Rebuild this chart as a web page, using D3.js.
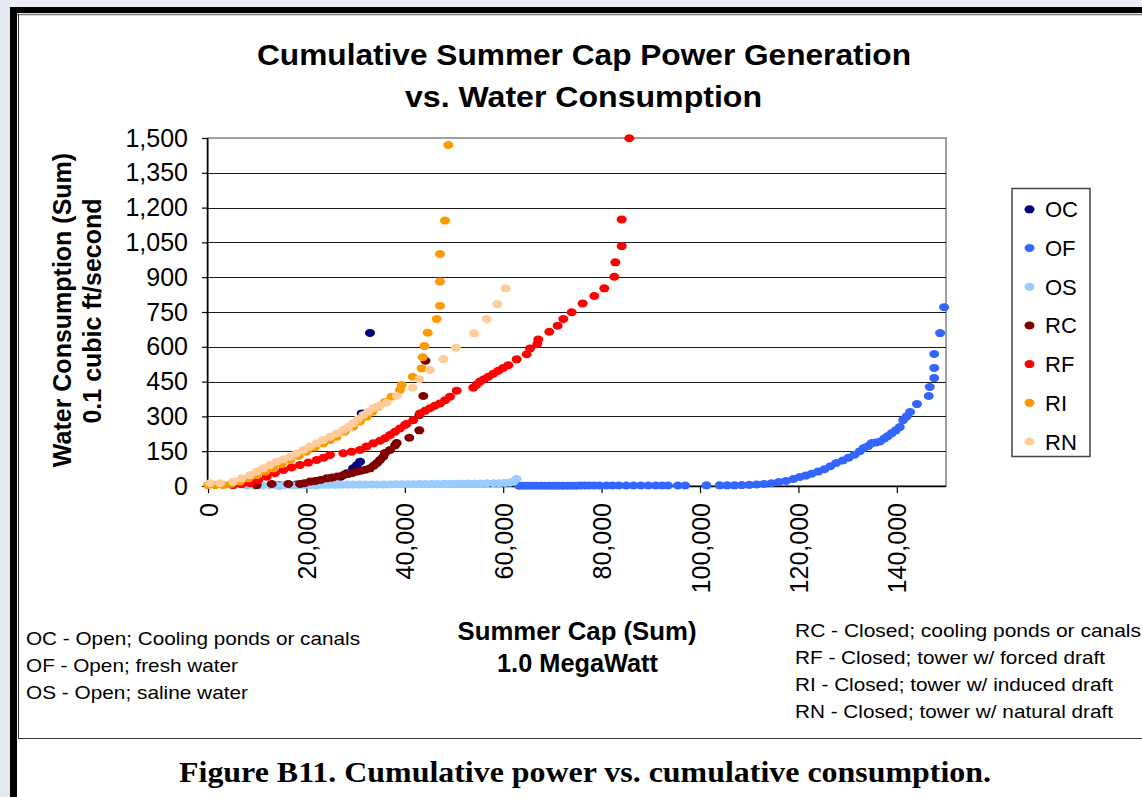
<!DOCTYPE html>
<html><head><meta charset="utf-8">
<script src="https://cdn.jsdelivr.net/npm/d3@7"></script>
<style>body{margin:0;background:#fff}svg{display:block}</style>
</head><body>
<svg id="c" width="1142" height="797"></svg>
<script>
// ---------- data ----------
const seriesNames = ["OC","OF","OS","RC","RF","RI","RN"];
const seriesColors = ["#000080","#3366FF","#99CCFF","#800000","#FF0000","#FF9900","#FFCC99"];

const OC_x = [14500, 18000, 22400, 25000, 27000, 28200, 29500, 30300, 30900, 31240, 32930];
const OC_y = [3, 6, 20, 28, 40, 55, 76, 90, 105, 313, 660];

const OF_x = [63200, 64000, 64900, 65800, 66700, 67600, 68500, 69400, 70300, 71200, 72100, 73000, 73900, 74800, 75700, 76600, 77500, 78500, 79600, 81000, 82200, 83500, 85000, 86500, 88000, 89500, 91000, 92300, 93500, 95500, 97000, 101300, 104000, 105500, 107000, 108500, 110000, 111500, 113000, 114500, 116000, 117500, 119000, 120300, 121500, 122700, 124000, 125300, 126500, 127700, 129000, 130200, 131400, 132500, 133300, 134200, 134900, 135800, 136600, 137500, 138200, 139000, 139800, 140600, 141300, 142000, 142700, 144100, 146500, 146700, 147600, 147600, 147600, 148800, 149600];
const OF_y = [1, 1, 1, 1, 1, 1, 1, 1, 1, 1, 1, 1, 1, 1, 2, 2, 2, 2, 2, 2, 2, 2, 2, 2, 2, 2, 2, 2, 2, 2, 2, 3, 3, 3, 3, 4, 5, 7, 9, 12, 17, 22, 30, 39, 45, 53, 62, 72, 85, 99, 110, 122, 135, 150, 164, 172, 185, 188, 192, 205, 215, 228, 240, 254, 284, 300, 319, 353, 388, 427, 465, 509, 569, 659, 771];

const OS_x = [7900, 9500, 11000, 12600, 14000, 15300, 16800, 18200, 19500, 20800, 22000, 23300, 24500, 25800, 27000, 28300, 29500, 30800, 32000, 33200, 34500, 35700, 37000, 38200, 39400, 40600, 41800, 43000, 44200, 45500, 46700, 48000, 49200, 50500, 51700, 53000, 54200, 55500, 56700, 58000, 59200, 60300, 61300, 62100, 62700];
const OS_y = [1, 1, 2, 2, 2, 3, 3, 3, 4, 4, 4, 5, 5, 5, 5, 6, 6, 6, 6, 7, 7, 7, 7, 8, 8, 8, 8, 9, 9, 9, 9, 10, 10, 10, 10, 11, 11, 11, 12, 12, 12, 13, 14, 19, 30];

const RC_x = [9900, 12950, 16320, 18700, 19600, 20730, 21800, 22900, 24120, 25200, 26300, 27500, 28500, 29400, 30220, 31100, 32000, 32930, 33700, 34400, 34960, 35630, 35980, 36990, 38010, 38350, 40910, 42950, 42950, 43760, 44200];
const RC_y = [4, 9, 9, 9, 12, 19, 22, 26, 33, 37, 41, 47, 52, 56, 62, 66, 70, 76, 88, 100, 112, 126, 142, 155, 175, 185, 208, 240, 306, 388, 540];

const RF_x = [5080, 6800, 8540, 10200, 11930, 13600, 15310, 17000, 18700, 20400, 22090, 23500, 24800, 27500, 29200, 30890, 32200, 33600, 34960, 35980, 36990, 38010, 39000, 40040, 40380, 41730, 43090, 44100, 45120, 46100, 47150, 48200, 49190, 50540, 53930, 54600, 55280, 56100, 56970, 58000, 59010, 60000, 61040, 62740, 64770, 65450, 66930, 67140, 69370, 71070, 72220, 73920, 76150, 78520, 80550, 82580, 82790, 84080, 84080, 85630];
const RF_y = [4, 8, 12, 25, 40, 55, 69, 80, 91, 101, 112, 122, 134, 141, 148, 155, 170, 184, 195, 206, 220, 234, 248, 263, 268, 284, 313, 324, 335, 346, 356, 370, 385, 411, 424, 437, 450, 460, 471, 484, 497, 509, 521, 546, 568, 593, 612, 632, 665, 691, 720, 749, 787, 819, 852, 902, 964, 1034, 1149, 1499];

const RI_x = [0, 1500, 3110, 4800, 6500, 8200, 9900, 11600, 13270, 15000, 16670, 18400, 20060, 21700, 23430, 24800, 26150, 27800, 29530, 30900, 32250, 33400, 34610, 35980, 37300, 39020, 39370, 41600, 43430, 43640, 43970, 44650, 46480, 47150, 47150, 47150, 48170, 48850];
const RI_y = [4, 4, 4, 10, 19, 33, 47, 62, 76, 94, 112, 130, 148, 166, 184, 198, 212, 234, 256, 278, 299, 320, 342, 362, 385, 414, 435, 471, 507, 555, 603, 661, 720, 777, 881, 1000, 1144, 1470];

const RN_x = [400, 2440, 5150, 6800, 8540, 9900, 11240, 12600, 13960, 15300, 16670, 18000, 19370, 20700, 22090, 23400, 24800, 26100, 27500, 28500, 29530, 30500, 31570, 32600, 33600, 35000, 36320, 38350, 41600, 42950, 45120, 47830, 50400, 54060, 56650, 58800, 60500];
const RN_y = [12, 12, 19, 33, 47, 62, 76, 90, 105, 115, 126, 140, 155, 170, 184, 198, 212, 226, 241, 255, 270, 288, 306, 320, 335, 347, 359, 388, 424, 460, 500, 547, 596, 658, 720, 784, 852];

const yTicks = [0, 150, 300, 450, 600, 750, 900, 1050, 1200, 1350, 1500];
const xTicks = [0, 20000, 40000, 60000, 80000, 100000, 120000, 140000];

const titleLines = ["Cumulative Summer Cap Power Generation", "vs. Water Consumption"];
const yTitleLines = ["Water Consumption (Sum)", "0.1 cubic ft/second"];
const xTitleLines = ["Summer Cap (Sum)", "1.0 MegaWatt"];
const notesLeft = ["OC - Open; Cooling ponds or canals", "OF - Open; fresh water", "OS - Open; saline water"];
const notesRight = ["RC - Closed; cooling ponds or canals", "RF - Closed; tower w/ forced draft", "RI - Closed; tower w/ induced draft", "RN - Closed; tower w/ natural draft"];
const caption = "Figure B11. Cumulative power vs. cumulative consumption.";

// ---------- build ----------
const seriesX = [OC_x, OF_x, OS_x, RC_x, RF_x, RI_x, RN_x];
const seriesY = [OC_y, OF_y, OS_y, RC_y, RF_y, RI_y, RN_y];
const series = seriesNames.map((n, i) => ({name: n, color: seriesColors[i],
  pts: seriesX[i].map((x, j) => ({x, y: seriesY[i][j]}))}));

const svg = d3.select("#c");
const SANS = "'Liberation Sans', Arial, sans-serif";
const SERIF = "'Liberation Serif', 'Times New Roman', serif";

// frame
svg.append("rect").attr("x",0).attr("y",0).attr("width",1142).attr("height",797).attr("fill","#e3e7ef");
svg.append("rect").attr("x",10).attr("y",0).attr("width",1132).attr("height",7).attr("fill","#eceef5");
svg.append("rect").attr("x",10).attr("y",7).attr("width",1132).attr("height",6).attr("fill","#000");
svg.append("rect").attr("x",10).attr("y",7).attr("width",7).attr("height",790).attr("fill","#000");
svg.append("rect").attr("x",17).attr("y",13).attr("width",1125).attr("height",784).attr("fill","#fff");
svg.append("line").attr("x1",17).attr("x2",1142).attr("y1",14.5).attr("y2",14.5).attr("stroke","#777").attr("stroke-width",1.5);
svg.append("line").attr("x1",18.5).attr("x2",18.5).attr("y1",14).attr("y2",738.5).attr("stroke","#333").attr("stroke-width",1);
svg.append("line").attr("x1",18).attr("x2",1142).attr("y1",738.5).attr("y2",738.5).attr("stroke","#333").attr("stroke-width",1.2);

function txt(str, x, y, o) {
  const t = svg.append("text").text(str)
    .attr("font-family", o.family || SANS)
    .attr("font-size", o.size)
    .attr("font-weight", o.weight || "normal")
    .attr("text-anchor", o.anchor || "start")
    .attr("fill", "#000");
  let tr = `translate(${x},${y})`;
  if (o.rot) tr += ` rotate(${o.rot})`;
  t.attr("transform", tr);
  if (o.len) t.attr("textLength", o.len).attr("lengthAdjust", "spacingAndGlyphs");
  if (o.dy) t.attr("dy", o.dy);
  return t;
}

// scales
const x = d3.scaleLinear().domain([0, 150000]).range([208, 946]);
const y = d3.scaleLinear().domain([0, 1500]).range([486, 138]);

// plot area
const plot = svg.append("g");
plot.append("rect").attr("x",208).attr("y",138).attr("width",738).attr("height",348)
  .attr("fill","#fff").attr("stroke","#808080").attr("stroke-width",1.5);
plot.selectAll("line.grid").data(yTicks.filter(d => d > 0 && d < 1500)).join("line")
  .attr("class","grid").attr("x1",208).attr("x2",946)
  .attr("y1", d => Math.round(y(d)) + 0.5).attr("y2", d => Math.round(y(d)) + 0.5)
  .attr("stroke","#1a1a1a").attr("stroke-width",1.2);

// axes
const yAxis = svg.append("g").attr("transform","translate(208,0)")
  .call(d3.axisLeft(y).tickValues(yTicks).tickSize(6).tickPadding(14).tickFormat(d3.format(",")));
const xAxis = svg.append("g").attr("transform","translate(0,486)")
  .call(d3.axisBottom(x).tickValues(xTicks).tickSize(7).tickFormat(d3.format(",")));
[yAxis, xAxis].forEach(a => {
  a.select(".domain").attr("stroke","#000").attr("stroke-width",1.5);
  a.selectAll(".tick line").attr("stroke","#000").attr("stroke-width",1.2);
  a.selectAll("text").attr("font-family", SANS).attr("font-size", 25).attr("fill","#000");
});
yAxis.select(".domain").attr("d","M-0.5,486V138");
xAxis.select(".domain").attr("d","M208,0.5H946");
xAxis.selectAll(".tick text")
  .attr("transform","rotate(-90)")
  .attr("text-anchor","end")
  .attr("x", -17).attr("y", 0).attr("dy","0.36em");

// points
const pg = svg.append("g");
series.forEach(s => {
  pg.append("g").selectAll("ellipse").data(s.pts).join("ellipse")
    .attr("cx", d => x(d.x)).attr("cy", d => y(d.y))
    .attr("rx", 5).attr("ry", 4).attr("fill", s.color);
});

// title
txt(titleLines[0], 584, 65, {size: 29, weight: "bold", anchor: "middle", len: 654});
txt(titleLines[1], 583.5, 107, {size: 29, weight: "bold", anchor: "middle", len: 357});

// y title
txt(yTitleLines[0], 71, 310, {size: 25, weight: "bold", anchor: "middle", rot: -90});
txt(yTitleLines[1], 101, 311, {size: 25, weight: "bold", anchor: "middle", rot: -90});

// x title
txt(xTitleLines[0], 577, 640, {size: 25, weight: "bold", anchor: "middle", len: 239});
txt(xTitleLines[1], 577.5, 672, {size: 25, weight: "bold", anchor: "middle", len: 161});

// legend
const lg = svg.append("g");
lg.append("rect").attr("x",1012).attr("y",188.5).attr("width",78).attr("height",268)
  .attr("fill","#fff").attr("stroke","#444").attr("stroke-width",1.5);
series.forEach((s, i) => {
  const cy = 209.3 + i * 38.7;
  lg.append("ellipse").attr("cx",1029.5).attr("cy",cy).attr("rx",5).attr("ry",4).attr("fill",s.color);
  txt(s.name, 1045, cy + 8, {size: 22});
});

// notes
const leftLens = [334, 212, 222];
notesLeft.forEach((n, i) => txt(n, 26, 645 + i * 26.8, {size: 19, len: leftLens[i]}));
const rightLens = [346, 310, 318, 318];
const rightBase = [637.3, 664, 690.7, 718.3];
notesRight.forEach((n, i) => txt(n, 795, rightBase[i], {size: 19, len: rightLens[i]}));

// caption
txt(caption, 585, 782, {size: 30, weight: "bold", anchor: "middle", family: SERIF, len: 812});
</script>
</body></html>
